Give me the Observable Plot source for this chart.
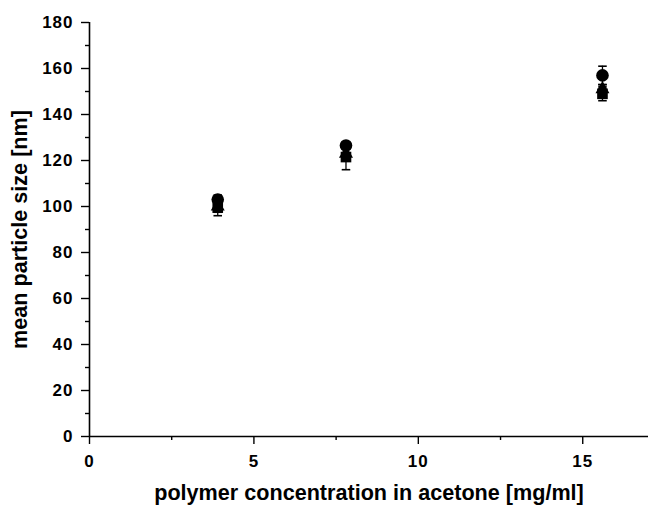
<!DOCTYPE html>
<html><head><meta charset="utf-8">
<script src="https://cdn.jsdelivr.net/npm/d3@7"></script>
<script src="https://cdn.jsdelivr.net/npm/@observablehq/plot@0.6"></script>
<style>body{margin:0;background:#fff;} svg{display:block;}</style>
</head><body><div id="chart"></div>
<script>
const conc = [3.9, 7.8, 15.6];
const squareSize = [99.5, 121.5, 149];
const squareErr = [3.5, 5.5, 3];
const circleSize = [103, 126.5, 157];
const circleErr = [2, 1.5, 4];
const triangleSize = [100, 123, 151];
const triangleErr = [2.5, 2, 2];
const xTicks = [0, 5, 10, 15];
const xMinor = [2.5, 7.5, 12.5];
const yTicks = [0, 20, 40, 60, 80, 100, 120, 140, 160, 180];
const yMinor = [10, 30, 50, 70, 90, 110, 130, 150, 170];

const mk = (ys, es) => conc.map((x, i) => ({x, y: ys[i], e: es[i]}));
const sq = mk(squareSize, squareErr);
const ci = mk(circleSize, circleErr);
const tr = mk(triangleSize, triangleErr);
const rows = [...sq, ...ci, ...tr];

const font = "Liberation Sans, Arial, sans-serif";
const chart = Plot.plot({
  width: 649, height: 508,
  marginLeft: 89, marginRight: 1, marginTop: 22, marginBottom: 72,
  style: {fontFamily: font, fontWeight: "bold", fontSize: "17px", color: "#000", background: "#fff"},
  x: {domain: [0, 17]},
  y: {domain: [0, 180]},
  marks: [
    Plot.axisX({ticks: xTicks, tickSize: 8, tickPadding: 10, fontSize: 17, label: null, tickFormat: d => d}),
    Plot.axisX({ticks: xMinor, tickSize: 4, label: null, tickFormat: () => ""}),
    Plot.axisY({ticks: yTicks, tickSize: 8, tickPadding: 8, fontSize: 17, label: null, tickFormat: d => d}),
    Plot.axisY({ticks: yMinor, tickSize: 4, label: null, tickFormat: () => ""}),
    Plot.ruleY([0], {strokeWidth: 1.6}),
    Plot.ruleX([0], {strokeWidth: 1.6}),
    Plot.ruleX(rows, {x: "x", y1: d => d.y - d.e, y2: d => d.y + d.e, strokeWidth: 1.3}),
    Plot.link(rows, {x1: d => d.x - 0.13, x2: d => d.x + 0.13, y1: d => d.y - d.e, y2: d => d.y - d.e, strokeWidth: 1.6}),
    Plot.link(rows, {x1: d => d.x - 0.13, x2: d => d.x + 0.13, y1: d => d.y + d.e, y2: d => d.y + d.e, strokeWidth: 1.6}),
    Plot.dot(sq, {x: "x", y: "y", symbol: "square", r: 6, fill: "#000", stroke: "none"}),
    Plot.dot(ci, {x: "x", y: "y", symbol: "circle", r: 6.3, fill: "#000", stroke: "none"}),
    Plot.dot(tr, {x: "x", y: "y", symbol: "triangle", r: 5.2, fill: "#000", stroke: "none"}),
    Plot.text(["polymer concentration in acetone [mg/ml]"], {frameAnchor: "bottom", dy: 63, fontSize: 21.6, fontWeight: "bold"}),
    Plot.text(["mean particle size [nm]"], {frameAnchor: "left", dx: -69, rotate: -90, textAnchor: "middle", fontSize: 21.6, fontWeight: "bold"})
  ]
});
chart.querySelectorAll("[aria-label^='y-axis'] path, [aria-label^='x-axis'] path").forEach(p => p.setAttribute("stroke-width", 1.4));
chart.querySelectorAll("[aria-label$='tick label']").forEach(g => g.style.letterSpacing = "1px");
document.getElementById("chart").appendChild(chart);
</script></body></html>
